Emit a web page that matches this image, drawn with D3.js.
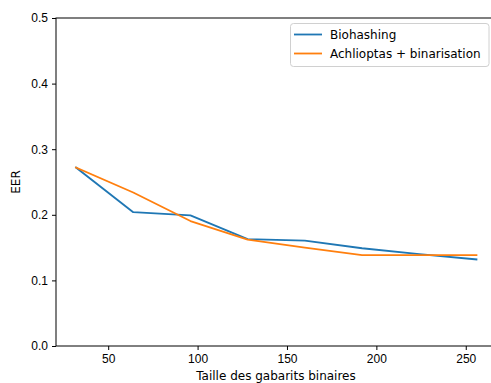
<!DOCTYPE html>
<html>
<head>
<meta charset="utf-8">
<script src="https://cdn.jsdelivr.net/npm/d3@7"></script>
<style>
  body { margin: 0; background: #fff; }
  svg { display: block; font-family: "DejaVu Sans", sans-serif; }
  .tick text { font-size: 12px; fill: #000; }
</style>
</head>
<body>
<div id="chart"></div>
<script>
// data
var sizes = [32, 64, 96, 128, 160, 192, 224, 256];
var biohashing = [0.272, 0.204, 0.199, 0.163, 0.1605, 0.149, 0.140, 0.132];
var achlioptas = [0.272, 0.234, 0.1905, 0.162, 0.150, 0.1385, 0.1385, 0.1385];
var seriesNames = ["Biohashing", "Achlioptas + binarisation"];
var xTicks = [50, 100, 150, 200, 250];
var yTicks = [0.0, 0.1, 0.2, 0.3, 0.4, 0.5];

var svgWidth = 491;
var svgHeight = 383;

// axes box (right side runs past the picture edge, like the original crop)
var margin = { left: 56, right: 496.5, top: 18, bottom: 346 };

var svg = d3.select("#chart")
  .append("svg")
  .attr("width", svgWidth)
  .attr("height", svgHeight);

var pad = (256 - 32) * 0.05;
var xScale = d3.scaleLinear()
  .domain([32 - pad, 256 + pad])
  .range([margin.left, margin.right]);

var yScale = d3.scaleLinear()
  .domain([0, 0.5])
  .range([margin.bottom, margin.top]);

// axes
var bottomAxis = d3.axisBottom(xScale)
  .tickValues(xTicks)
  .tickSize(4)
  .tickPadding(4)
  .tickFormat(d3.format("d"));

var leftAxis = d3.axisLeft(yScale)
  .tickValues(yTicks)
  .tickSize(4)
  .tickPadding(4)
  .tickFormat(d3.format(".1f"));

var xg = svg.append("g")
  .attr("transform", `translate(0, ${margin.bottom})`)
  .call(bottomAxis);
xg.select(".domain").remove();

var yg = svg.append("g")
  .attr("transform", `translate(${margin.left}, 0)`)
  .call(leftAxis);
yg.select(".domain").remove();

svg.selectAll(".tick line").attr("stroke", "#000").attr("stroke-width", 1);

// spines
svg.append("rect")
  .attr("x", margin.left)
  .attr("y", margin.top)
  .attr("width", margin.right - margin.left)
  .attr("height", margin.bottom - margin.top)
  .attr("fill", "none")
  .attr("stroke", "#000")
  .attr("stroke-width", 1);

// lines
var line = d3.line()
  .x((d, i) => xScale(sizes[i]))
  .y(d => yScale(d));

var colors = ["#1f77b4", "#ff7f0e"];
[biohashing, achlioptas].forEach(function(vals, k) {
  svg.append("path")
    .datum(vals)
    .attr("d", line)
    .attr("fill", "none")
    .attr("stroke", colors[k])
    .attr("stroke-width", 1.8)
    .attr("stroke-linejoin", "round")
    .attr("stroke-linecap", "square");
});

// legend
var legend = svg.append("g");
legend.append("rect")
  .attr("x", 290.5)
  .attr("y", 23.5)
  .attr("width", 198.5)
  .attr("height", 43)
  .attr("rx", 3)
  .attr("fill", "#fff")
  .attr("fill-opacity", 0.8)
  .attr("stroke", "#d0d0d0")
  .attr("stroke-width", 1);

seriesNames.forEach(function(name, k) {
  var yy = 34.5 + k * 19;
  legend.append("line")
    .attr("x1", 294)
    .attr("x2", 322)
    .attr("y1", yy)
    .attr("y2", yy)
    .attr("stroke", colors[k])
    .attr("stroke-width", 1.8);
  legend.append("text")
    .attr("x", 330)
    .attr("y", yy)
    .attr("dy", "0.35em")
    .attr("font-size", "12px")
    .text(name);
});

// axis labels
svg.append("text")
  .attr("x", 276)
  .attr("y", 380)
  .attr("text-anchor", "middle")
  .attr("font-size", "12px")
  .text("Taille des gabarits binaires");

svg.append("text")
  .attr("transform", `translate(20, ${(margin.top + margin.bottom) / 2}) rotate(-90)`)
  .attr("text-anchor", "middle")
  .attr("font-size", "12px")
  .text("EER");
</script>
</body>
</html>
